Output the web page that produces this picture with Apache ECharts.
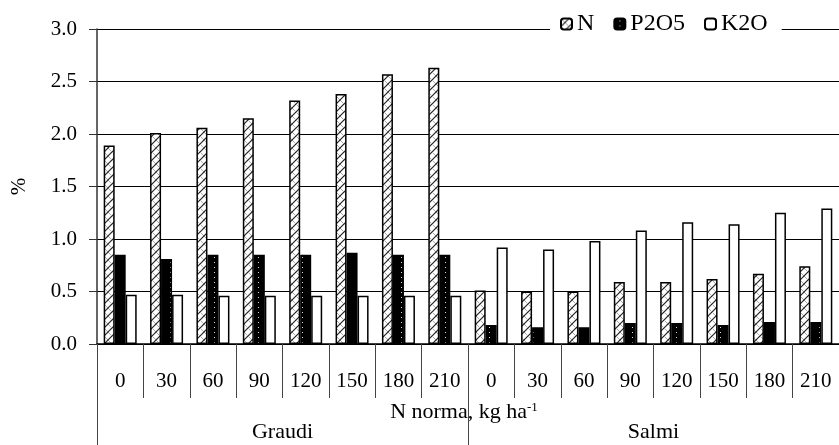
<!DOCTYPE html>
<html>
<head>
<meta charset="utf-8">
<script src="https://cdn.jsdelivr.net/npm/echarts@6/dist/echarts.min.js"></script>
<style>
html,body{margin:0;padding:0;background:#fff;}
#chart{width:839px;height:445px;}
</style>
</head>
<body>
<div id="chart"></div>
<script>
const categories = ['0','30','60','90','120','150','180','210','0','30','60','90','120','150','180','210'];
const groups = ['Graudi','Salmi'];
const nValues    = [1.89,2.01,2.06,2.15,2.32,2.38,2.57,2.63, 0.51,0.50,0.50,0.59,0.59,0.62,0.67,0.74];
const p2o5Values = [0.85,0.81,0.85,0.85,0.85,0.87,0.85,0.85, 0.18,0.16,0.16,0.20,0.20,0.18,0.21,0.21];
const k2oValues  = [0.47,0.47,0.46,0.46,0.46,0.46,0.46,0.46, 0.92,0.90,0.98,1.08,1.16,1.14,1.25,1.29];
const yTicks = ['0.0','0.5','1.0','1.5','2.0','2.5','3.0'];

const FONT = '"Liberation Serif", "Times New Roman", Times, serif';

function makeHatch() {
  const c = document.createElement('canvas');
  c.width = 8; c.height = 8;
  const g = c.getContext('2d');
  g.fillStyle = '#fff'; g.fillRect(0,0,8,8);
  g.strokeStyle = '#aaa'; g.lineWidth = 1;
  g.beginPath(); g.moveTo(0,0); g.lineTo(8,8); g.stroke();
  g.strokeStyle = '#222'; g.lineWidth = 1.2;
  g.beginPath(); g.moveTo(-1,9); g.lineTo(9,-1); g.stroke();
  return c;
}
function makeDots() {
  const c = document.createElement('canvas');
  c.width = 11; c.height = 5;
  const g = c.getContext('2d');
  g.fillStyle = '#000'; g.fillRect(0,0,11,5);
  g.fillStyle = '#ddd'; g.fillRect(5,2,1,1);
  return c;
}

const chart = echarts.init(document.getElementById('chart'), null, {renderer:'canvas'});
const hatch = {image: makeHatch(), repeat: 'repeat'};
const dots = {image: makeDots(), repeat: 'repeat'};

const option = {
  animation: false,
  backgroundColor: '#fff',
  textStyle: {fontFamily: FONT, color: '#000'},
  legend: {
    left: 550, top: 11,
    padding: [1, 14, 1, 10],
    backgroundColor: '#fff',
    itemWidth: 11, itemHeight: 11,
    itemGap: 19,
    textStyle: {fontFamily: FONT, fontSize: 24, color: '#000'},
    data: ['N','P2O5','K2O']
  },
  grid: {left: 97, top: 29, width: 750, bottom: 101, containLabel: false},
  xAxis: [{
    type: 'category',
    data: categories,
    position: 'bottom',
    axisLine: {show: true, lineStyle: {color: '#000', width: 1.5}},
    axisTick: {show: true, interval: 0, length: 54, lineStyle: {color: '#444', width: 1}},
    axisLabel: {interval: 0, margin: 27, fontFamily: FONT, fontSize: 21, color: '#000'},
    name: '{a|N norma, kg ha}{s|-1}',
    nameLocation: 'middle',
    nameGap: 57,
    nameTextStyle: {
      fontFamily: FONT,
      padding: [0, 8, 0, 0],
      rich: {
        a: {fontFamily: FONT, fontSize: 22, color: '#000'},
        s: {fontFamily: FONT, fontSize: 13, color: '#000', verticalAlign: 'top', padding: [0,0,9,0]}
      }
    }
  }, {
    type: 'category',
    data: groups,
    position: 'bottom',
    gridIndex: 0,
    axisLine: {show: false},
    axisTick: {show: true, interval: 0, length: 101, lineStyle: {color: '#444', width: 1}},
    axisLabel: {interval: 0, margin: 77, fontFamily: FONT, fontSize: 22, color: '#000'}
  }],
  yAxis: {
    type: 'value',
    min: 0, max: 3, interval: 0.5,
    name: '%',
    nameLocation: 'middle',
    nameGap: 67,
    nameTextStyle: {fontFamily: FONT, fontSize: 21, color: '#000'},
    axisLine: {show: true, lineStyle: {color: '#333', width: 1.5}},
    axisTick: {show: true, inside: false, length: 8, lineStyle: {color: '#333'}},
    axisLabel: {margin: 20, fontFamily: FONT, fontSize: 21, color: '#000',
      formatter: function (v) { return yTicks[Math.round(v / 0.5)]; }},
    splitLine: {show: true, lineStyle: {color: '#000', width: 1}}
  },
  series: [{
    name: 'N', type: 'bar', xAxisIndex: 0,
    data: nValues,
    barWidth: 11, barGap: '0%',
    itemStyle: {color: hatch, borderColor: '#000', borderWidth: 1.5}
  }, {
    name: 'P2O5', type: 'bar', xAxisIndex: 0,
    data: p2o5Values,
    barWidth: 11, barGap: '0%',
    itemStyle: {color: dots, borderColor: '#000', borderWidth: 1.5}
  }, {
    name: 'K2O', type: 'bar', xAxisIndex: 0,
    data: k2oValues,
    barWidth: 11, barGap: '0%',
    itemStyle: {color: '#fff', borderColor: '#000', borderWidth: 1.5}
  }]
};
chart.setOption(option);
</script>
</body>
</html>
